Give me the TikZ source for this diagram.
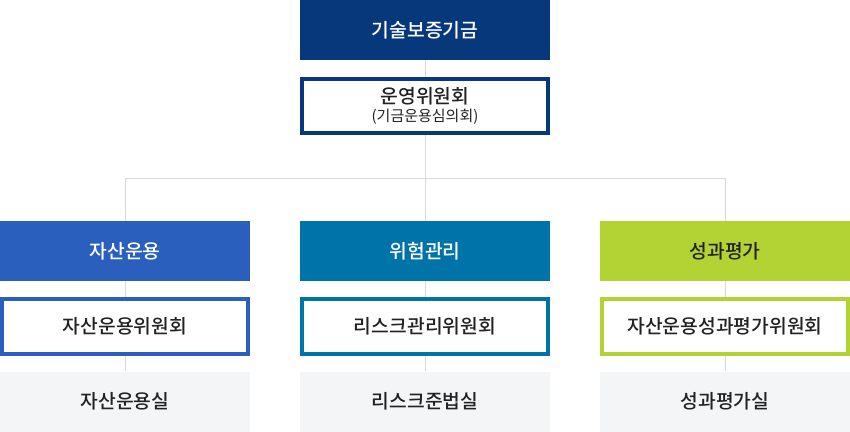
\documentclass[tikz,border=0pt]{standalone}
\usepackage{fontspec}
\setmainfont{Noto Sans CJK KR Medium}
\newfontfamily\plainfont{Noto Sans CJK KR}
\usepackage{tikz}

\definecolor{navy}{HTML}{08387C}
\definecolor{assetblue}{HTML}{2A5FBD}
\definecolor{riskteal}{HTML}{0073A9}
\definecolor{evallime}{HTML}{B3D335}
\definecolor{deskgrey}{HTML}{F4F5F7}
\definecolor{linkgrey}{HTML}{DADADA}
\definecolor{ink}{HTML}{222222}

\tikzset{
	head/.style={shape=rectangle,minimum width=250bp,minimum height=60bp,inner sep=0pt,text=white,font=\fontsize{19.3bp}{22bp}\selectfont},
	board/.style={shape=rectangle,draw=#1,line width=4bp,fill=white,minimum width=246bp,minimum height=56bp,inner sep=0pt,text=ink,font=\fontsize{19.3bp}{22bp}\selectfont},
	desk/.style={shape=rectangle,fill=deskgrey,minimum width=250bp,minimum height=60bp,inner sep=0pt,text=ink,font=\fontsize{19.3bp}{22bp}\selectfont},
	link/.style={draw=linkgrey,line width=1bp}
}

\begin{document}
\begin{tikzpicture}[x=1bp,y=-1bp]
	\useasboundingbox (0,0) rectangle (850,431);

	\node[head,fill=navy] (fund) at (425, 30)     {기술보증기금};
	\node[board=navy,minimum height=54bp,align=center] (ops) at (425, 106)     {운영위원회\\[-4bp]{\plainfont\fontsize{15bp}{17bp}\selectfont (기금운용심의회)}};
	\coordinate (hub) at (425, 178.5);

	\node[head,fill=assetblue] (asset) at (125, 251)     {자산운용};
	\node[head,fill=riskteal]  (risk)  at (425, 251)     {위험관리};
	\node[head,fill=evallime,text=ink] (eval) at (725, 251)     {성과평가};

	\node[board=assetblue,minimum height=55bp] (assetc) at (125, 326)     {자산운용위원회};
	\node[board=riskteal,minimum height=55bp]  (riskc)  at (425, 326)     {리스크관리위원회};
	\node[board=evallime,minimum height=55bp]  (evalc)  at (725, 326)     {자산운용성과평가위원회};

	\node[desk] (assetd) at (125, 401.5)     {자산운용실};
	\node[desk] (riskd)  at (425, 401.5)     {리스크준법실};
	\node[desk] (evald)  at (725, 401.5)     {성과평가실};

	\path[link] (fund) -- (ops);
	\path[link] (ops) -- (hub);
	\path[link] (hub) -| (asset);
	\path[link] (hub) -- (risk);
	\path[link] (hub) -| (eval);
	\path[link] (asset) -- (assetc);
	\path[link] (risk) -- (riskc);
	\path[link] (eval) -- (evalc);
	\path[link] (assetc) -- (assetd);
	\path[link] (riskc) -- (riskd);
	\path[link] (evalc) -- (evald);

\end{tikzpicture}
\end{document}
